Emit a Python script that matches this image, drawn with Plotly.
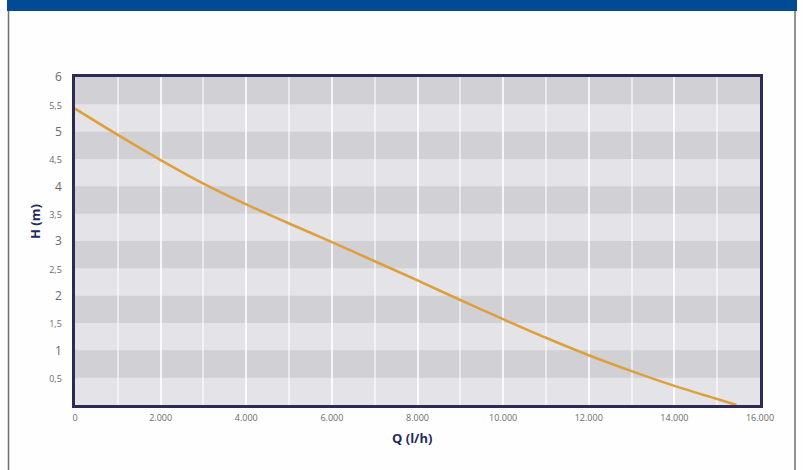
import plotly.graph_objects as go

# pump curve
flow_lh = [0, 1000, 2000, 3000, 4000, 5000, 6000, 7000, 8000, 9000,
           10000, 11000, 12000, 13000, 14000, 15000, 15450]
head_m = [5.42, 4.94, 4.48, 4.05, 3.67, 3.32, 2.98, 2.63, 2.28, 1.92,
          1.57, 1.23, 0.91, 0.62, 0.35, 0.11, 0.0]

x_ticks = [0, 2000, 4000, 6000, 8000, 10000, 12000, 14000, 16000]
x_labels = ["0", "2.000", "4.000", "6.000", "8.000", "10.000", "12.000", "14.000", "16.000"]
y_ticks = [0.5, 1, 1.5, 2, 2.5, 3, 3.5, 4, 4.5, 5, 5.5, 6]
y_labels = ["0,5", "1", "1,5", "2", "2,5", "3", "3,5", "4", "4,5", "5", "5,5", "6"]

W, H = 803, 470
L, R, T, B = 75, 760, 77, 405


def px(x):
    return (x - L) / (R - L)


def py(y):
    return (B - y) / (B - T)


fig = go.Figure()
fig.add_trace(go.Scatter(
    x=flow_lh, y=head_m, mode="lines",
    line=dict(color="#dea03e", width=2.6, shape="spline", smoothing=0.8),
    hoverinfo="skip", showlegend=False,
))

shapes = []
# alternating grey bands, darker on the upper half of each metre
for lo in range(6):
    shapes.append(dict(type="rect", xref="x", yref="y", x0=0, x1=16000,
                       y0=lo + 0.5, y1=lo + 1, fillcolor="#d1d1d5",
                       line_width=0, layer="below"))

# blue header and thin side borders
for bx in (8.5, 795):
    shapes.append(dict(type="line", xref="paper", yref="paper",
                       x0=px(bx), x1=px(bx), y0=py(10), y1=py(470),
                       line=dict(color="#6e6e6e", width=1.5)))
shapes.append(dict(type="rect", xref="paper", yref="paper",
                   x0=px(7), x1=px(797), y0=py(0), y1=py(11),
                   line_width=0, fillcolor="#004b93"))

y_text = [f"<span style='font-size:12px'>{t}</span>" if "," not in t
          else f"<span style='font-size:9px'>{t}</span>" for t in y_labels]

fig.update_layout(
    width=W, height=H,
    margin=dict(l=L, r=W - R, t=T, b=H - B),
    paper_bgcolor="#fefefe", plot_bgcolor="#e4e4e8",
    font=dict(family="Open Sans", color="#6a6a6a"),
    shapes=shapes,
    annotations=[
        dict(text="<b>H (m)</b>", xref="paper", yref="paper", x=px(35), y=py(222),
             xanchor="center", yanchor="middle",
             textangle=-90, showarrow=False, font=dict(size=13, color="#1f2b5c")),
        dict(text="<b>Q (l/h)</b>", xref="paper", yref="paper", x=px(412), y=py(438),
             xanchor="center", yanchor="middle",
             showarrow=False, font=dict(size=13, color="#1f2b5c")),
    ],
)
fig.update_xaxes(
    range=[0, 16000], tickvals=x_ticks, ticktext=x_labels,
    tickfont=dict(size=9, color="#6a6a6a"), ticks="", ticklabelstandoff=2,
    showgrid=True, gridcolor="rgba(255,255,255,0.55)", gridwidth=2,
    minor=dict(dtick=1000, showgrid=True, gridcolor="rgba(255,255,255,0.55)", gridwidth=2),
    showline=True, linecolor="#2b2b55", linewidth=2.5, mirror=True, zeroline=False,
)
fig.update_yaxes(
    range=[0, 6], tickvals=y_ticks, ticktext=y_text,
    tickfont=dict(color="#6a6a6a"), ticks="", ticklabelstandoff=8,
    showgrid=False, zeroline=False,
    showline=True, linecolor="#2b2b55", linewidth=2.5, mirror=True,
)

fig.write_html("out.html", config={"displayModeBar": False},
               post_script="document.body.style.margin='0';")
